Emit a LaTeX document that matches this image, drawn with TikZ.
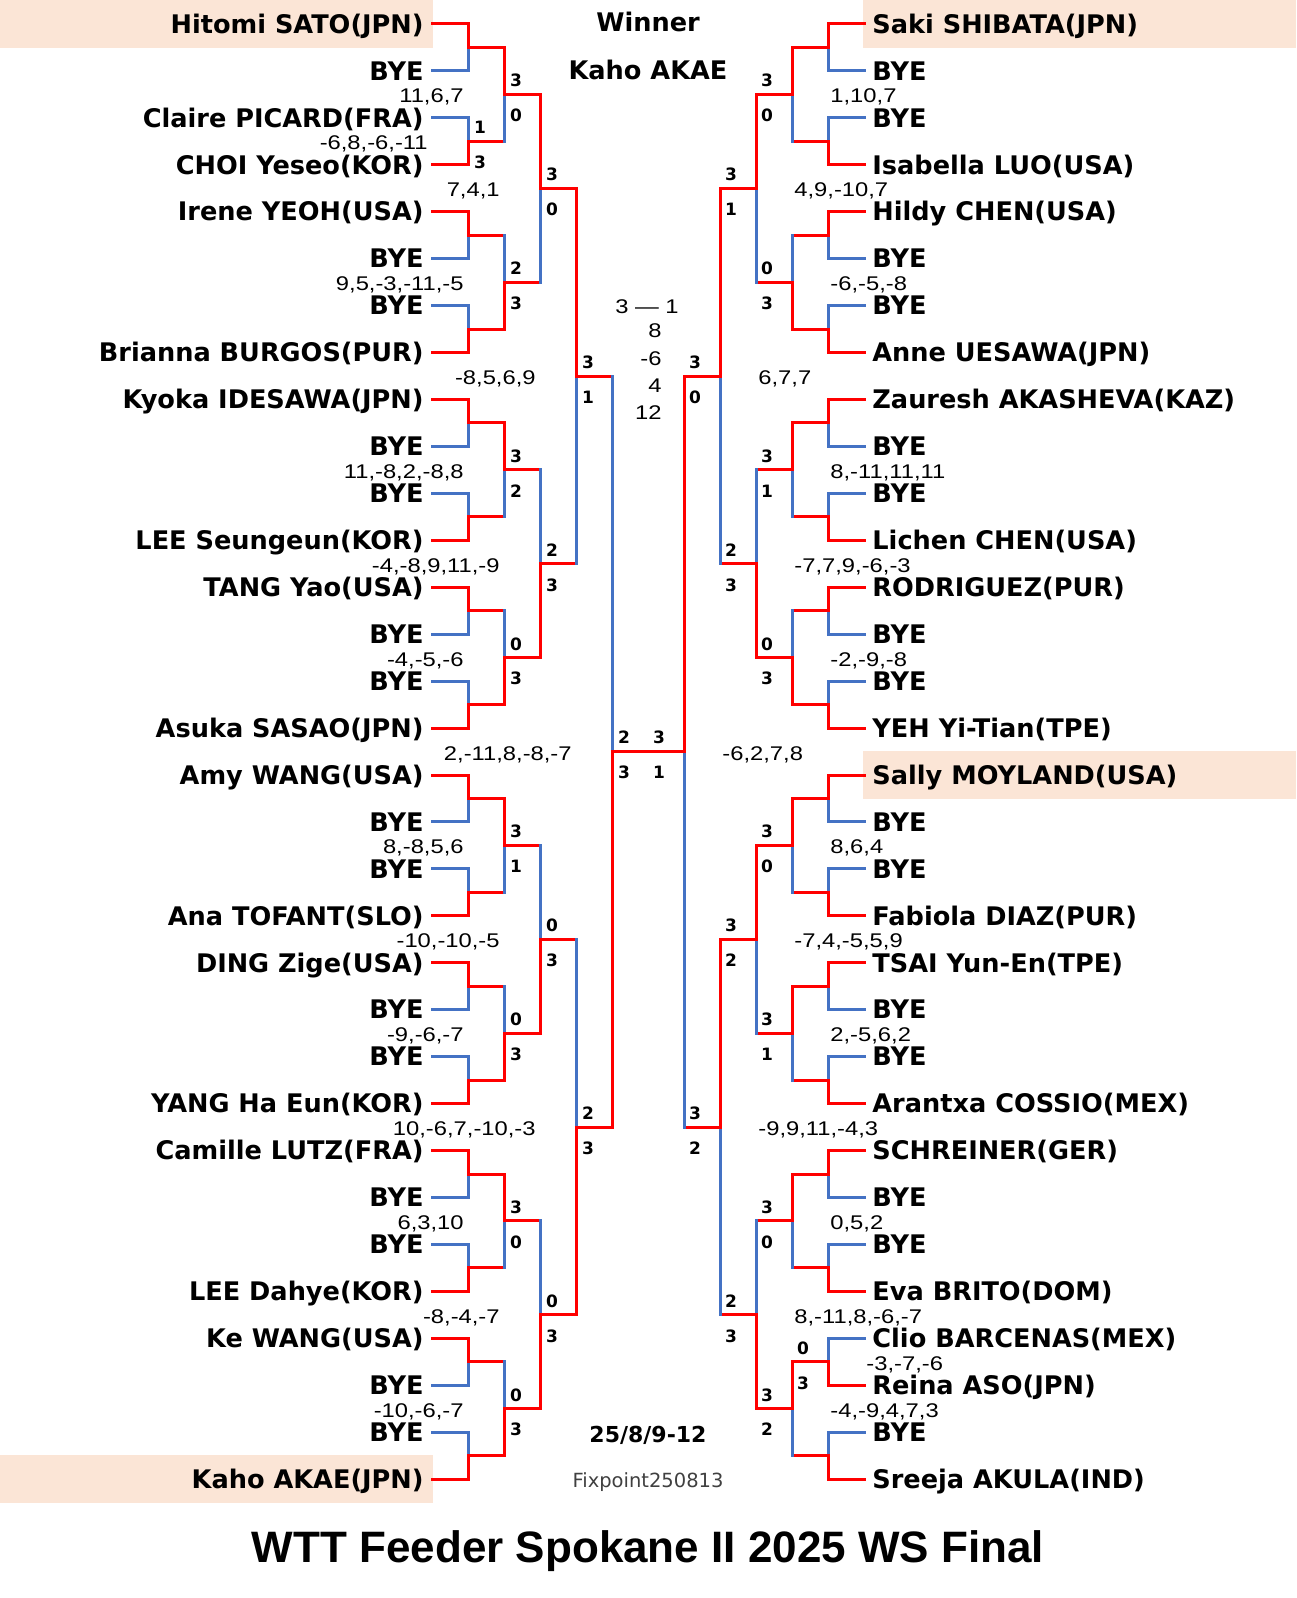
\documentclass[tikz,border=0pt]{standalone}
\usepackage{fontspec}
\setmainfont{DejaVu Sans}
\newfontfamily\scorefont[FakeStretch=1.2]{Liberation Sans}
\newfontfamily\titlefont{Liberation Sans}
\definecolor{cred}{RGB}{255,0,0}
\definecolor{cblue}{RGB}{68,114,196}
\definecolor{hlfill}{RGB}{251,229,214}
\definecolor{fixgray}{RGB}{64,64,64}
\tikzset{
  ln/.style={line width=1.5pt, line cap=rect},
  nm/.style={font=\bfseries\fontsize{12.8}{14}\selectfont, inner sep=0pt},
  lab/.style={font=\bfseries\fontsize{8.5}{10}\selectfont, inner sep=0pt},
  gsc/.style={font=\scorefont\fontsize{9.9}{11}\selectfont, inner sep=0pt},
  hl/.style={fill=hlfill, draw=none}
}
% one round of one half: #1 side (l/r), #2 level, #3 list winner/upper label/lower label/game scores
\newcommand\lvl[3]{%
  \pgfmathtruncatemacro\pl{#2-1}%
  \foreach \w/\ua/\lb/\gs [count=\jj from 0] in {#3}{%
    \pgfmathtruncatemacro\ca{2*\jj}%
    \pgfmathtruncatemacro\cb{2*\jj+1}%
    \ifnum\w=0 \def\cu{cred}\def\cl{cblue}\else\def\cu{cblue}\def\cl{cred}\fi
    \ifnum#2=1 \edef\hu{\cu}\edef\hlo{\cl}\else\def\hu{cred}\def\hlo{cred}\fi
    \draw[ln,draw=\hu] (#1\pl x\ca) -- (#1\pl x\ca -| #1#2x\jj);
    \draw[ln,draw=\hlo] (#1\pl x\cb) -- (#1\pl x\cb -| #1#2x\jj);
    \draw[ln,draw=\cu] (#1\pl x\ca -| #1#2x\jj) -- (#1#2x\jj);
    \draw[ln,draw=\cl] (#1\pl x\cb -| #1#2x\jj) -- (#1#2x\jj);
    \if n\ua\else
      \if#1l
        \node[lab,anchor=base,xshift=6pt,yshift=3.8pt] (#1#2x\jj u) at (#1#2x\jj) {\ua};
        \node[lab,anchor=base,xshift=6pt,yshift=-13.6pt] (#1#2x\jj d) at (#1#2x\jj) {\lb};
        \node[gsc,anchor=base east,xshift=-20pt,yshift=-4.25pt] (#1#2x\jj g) at (#1#2x\jj) {\gs};
      \else
        \node[lab,anchor=base,xshift=-12.5pt,yshift=3.8pt] (#1#2x\jj u) at (#1#2x\jj) {\ua};
        \node[lab,anchor=base,xshift=-12.5pt,yshift=-13.6pt] (#1#2x\jj d) at (#1#2x\jj) {\lb};
        \node[gsc,anchor=base west,xshift=19pt,yshift=-4.25pt] (#1#2x\jj g) at (#1#2x\jj) {\gs};
      \fi
    \fi
  }}
\begin{document}
\begin{tikzpicture}[x=0.5pt,y=-0.5pt]
\useasboundingbox (0,0) rectangle (1296,1598);
% bracket coordinates
\foreach \S/\sg/\xo in {l/1/432,r/-1/864}{
  \foreach \L in {0,...,5}{
    \pgfmathtruncatemacro\nn{2^(5-\L)-1}
    \foreach \j in {0,...,\nn}{
      \pgfmathsetmacro\yy{24+46.94*(\j*2^\L+(2^\L-1)/2)}
      \pgfmathsetmacro\xx{\xo+\sg*36*\L}
      \coordinate (\S\L x\j) at (\xx,\yy);
    }}}
% highlight boxes
\fill[hl] (0,0) rectangle (433,48);
\fill[hl] (0,1455) rectangle (433,1503);
\fill[hl] (863,0) rectangle (1296,48);
\fill[hl] (863,751) rectangle (1296,799);
% names
\foreach \nmt [count=\i from 0] in {Hitomi SATO(JPN), BYE, Claire PICARD(FRA), CHOI Yeseo(KOR), Irene YEOH(USA), BYE, BYE, Brianna BURGOS(PUR), Kyoka IDESAWA(JPN), BYE, BYE, LEE Seungeun(KOR), TANG Yao(USA), BYE, BYE, Asuka SASAO(JPN), Amy WANG(USA), BYE, BYE, Ana TOFANT(SLO), DING Zige(USA), BYE, BYE, YANG Ha Eun(KOR), Camille LUTZ(FRA), BYE, BYE, LEE Dahye(KOR), Ke WANG(USA), BYE, BYE, Kaho AKAE(JPN)}
  \node[nm,anchor=base east,xshift=-4pt,yshift=-4.6pt] (nl\i) at (l0x\i) {\nmt};
\foreach \nmt [count=\i from 0] in {Saki SHIBATA(JPN), BYE, BYE, Isabella LUO(USA), Hildy CHEN(USA), BYE, BYE, Anne UESAWA(JPN), Zauresh AKASHEVA(KAZ), BYE, BYE, Lichen CHEN(USA), RODRIGUEZ(PUR), BYE, BYE, YEH Yi-Tian(TPE), Sally MOYLAND(USA), BYE, BYE, Fabiola DIAZ(PUR), TSAI Yun-En(TPE), BYE, BYE, Arantxa COSSIO(MEX), SCHREINER(GER), BYE, BYE, Eva BRITO(DOM), Clio BARCENAS(MEX), Reina ASO(JPN), BYE, Sreeja AKULA(IND)}
  \node[nm,anchor=base west,xshift=4pt,yshift=-4.6pt] (nr\i) at (r0x\i) {\nmt};
% left half
\lvl{l}{1}{0/n/n/n, 1/1/3/{-6,8,-6,-11}, 0/n/n/n, 1/n/n/n, 0/n/n/n, 1/n/n/n, 0/n/n/n, 1/n/n/n, 0/n/n/n, 1/n/n/n, 0/n/n/n, 1/n/n/n, 0/n/n/n, 1/n/n/n, 0/n/n/n, 1/n/n/n}
\lvl{l}{2}{0/3/0/{11,6,7}, 1/2/3/{9,5,-3,-11,-5}, 0/3/2/{11,-8,2,-8,8}, 1/0/3/{-4,-5,-6}, 0/3/1/{8,-8,5,6}, 1/0/3/{-9,-6,-7}, 0/3/0/{6,3,10}, 1/0/3/{-10,-6,-7}}
\lvl{l}{3}{0/3/0/{7,4,1}, 1/2/3/{-4,-8,9,11,-9}, 1/0/3/{-10,-10,-5}, 1/0/3/{-8,-4,-7}}
\lvl{l}{4}{0/3/1/{-8,5,6,9}, 1/2/3/{10,-6,7,-10,-3}}
\lvl{l}{5}{1/2/3/{2,-11,8,-8,-7}}
% right half
\lvl{r}{1}{0/n/n/n, 1/n/n/n, 0/n/n/n, 1/n/n/n, 0/n/n/n, 1/n/n/n, 0/n/n/n, 1/n/n/n, 0/n/n/n, 1/n/n/n, 0/n/n/n, 1/n/n/n, 0/n/n/n, 1/n/n/n, 1/0/3/{-3,-7,-6}, 1/n/n/n}
\lvl{r}{2}{0/3/0/{1,10,7}, 1/0/3/{-6,-5,-8}, 0/3/1/{8,-11,11,11}, 1/0/3/{-2,-9,-8}, 0/3/0/{8,6,4}, 0/3/1/{2,-5,6,2}, 0/3/0/{0,5,2}, 0/3/2/{-4,-9,4,7,3}}
\lvl{r}{3}{0/3/1/{4,9,-10,7}, 1/2/3/{-7,7,9,-6,-3}, 0/3/2/{-7,4,-5,5,9}, 1/2/3/{8,-11,8,-6,-7}}
\lvl{r}{4}{0/3/0/{6,7,7}, 0/3/2/{-9,9,11,-4,3}}
\lvl{r}{5}{0/3/1/{-6,2,7,8}}
% final
\draw[ln,draw=cred] (l5x0) -- (r5x0);
% centre texts
\node[nm,anchor=base] (winner) at (648,32) {Winner};
\node[nm,anchor=base] (champ) at (648,80) {Kaho AKAE};
\node[gsc,anchor=base] (fscore) at (647,314) {3 — 1};
\node[gsc,anchor=base east] (g1) at (662,337.5) {8};
\node[gsc,anchor=base east] (g2) at (662,365.5) {-6};
\node[gsc,anchor=base east] (g3) at (662,392.5) {4};
\node[gsc,anchor=base east] (g4) at (662,419.5) {12};
\node[font=\bfseries\fontsize{11}{13}\selectfont,inner sep=0pt,anchor=base] (date) at (648,1442) {25/8/9-12};
\node[font=\fontsize{9.75}{11}\selectfont,text=fixgray,inner sep=0pt,anchor=base] (fix) at (648,1487) {Fixpoint250813};
\node[font=\titlefont\bfseries\fontsize{22}{26}\selectfont,inner sep=0pt,anchor=base] (title) at (648,1562) {WTT Feeder Spokane II 2025 WS Final};
\end{tikzpicture}
\end{document}
